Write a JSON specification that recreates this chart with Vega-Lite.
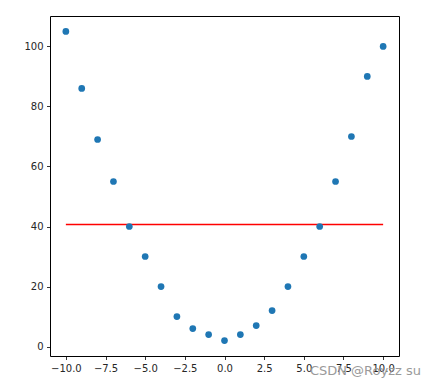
{
  "$schema": "https://vega.github.io/schema/vega-lite/v6.json",
  "autosize": "none",
  "width": 349,
  "height": 340,
  "padding": {"left": 50, "top": 16, "right": 37, "bottom": 35},
  "background": "white",
  "config": {
    "view": {"stroke": "#000000", "strokeWidth": 1},
    "font": "DejaVu Sans",
    "axis": {
      "grid": false,
      "domain": false,
      "tickColor": "#000000",
      "tickSize": 3.5,
      "tickWidth": 0.8,
      "labelFont": "DejaVu Sans",
      "labelFontSize": 10,
      "labelColor": "#262626",
      "labelPadding": 3.5,
      "title": null
    }
  },
  "title": {
    "text": "CSDN @Royzz su",
    "orient": "bottom",
    "anchor": "end",
    "font": "DejaVu Sans",
    "fontSize": 13,
    "fontWeight": "normal",
    "color": "#9a9a9a",
    "offset": 0,
    "dy": -8,
    "dx": 22
  },
  "datasets": {
    "pts": [
      {"x": -10, "y": 105}, {"x": -9, "y": 86}, {"x": -8, "y": 69}, {"x": -7, "y": 55},
      {"x": -6, "y": 40}, {"x": -5, "y": 30}, {"x": -4, "y": 20}, {"x": -3, "y": 10},
      {"x": -2, "y": 6}, {"x": -1, "y": 4}, {"x": 0, "y": 2}, {"x": 1, "y": 4},
      {"x": 2, "y": 7}, {"x": 3, "y": 12}, {"x": 4, "y": 20}, {"x": 5, "y": 30},
      {"x": 6, "y": 40}, {"x": 7, "y": 55}, {"x": 8, "y": 70}, {"x": 9, "y": 90},
      {"x": 10, "y": 100}
    ],
    "mean": [
      {"x": -10, "y": 40.71},
      {"x": 10, "y": 40.71}
    ]
  },
  "layer": [
    {
      "data": {"name": "mean"},
      "mark": {"type": "line", "color": "#ff0000", "strokeWidth": 1.5, "clip": true},
      "encoding": {
        "x": {"field": "x", "type": "quantitative"},
        "y": {"field": "y", "type": "quantitative"}
      }
    },
    {
      "data": {"name": "pts"},
      "mark": {"type": "point", "filled": true, "shape": "circle", "size": 45, "color": "#1f77b4", "opacity": 1},
      "encoding": {
        "x": {
          "field": "x", "type": "quantitative",
          "scale": {"domain": [-11, 11], "nice": false, "zero": false},
          "axis": {"values": [-10, -7.5, -5, -2.5, 0, 2.5, 5, 7.5, 10], "format": ".1f"}
        },
        "y": {
          "field": "y", "type": "quantitative",
          "scale": {"domain": [-3.15, 110.15], "nice": false, "zero": false},
          "axis": {"values": [0, 20, 40, 60, 80, 100], "format": "d"}
        }
      }
    }
  ]
}
